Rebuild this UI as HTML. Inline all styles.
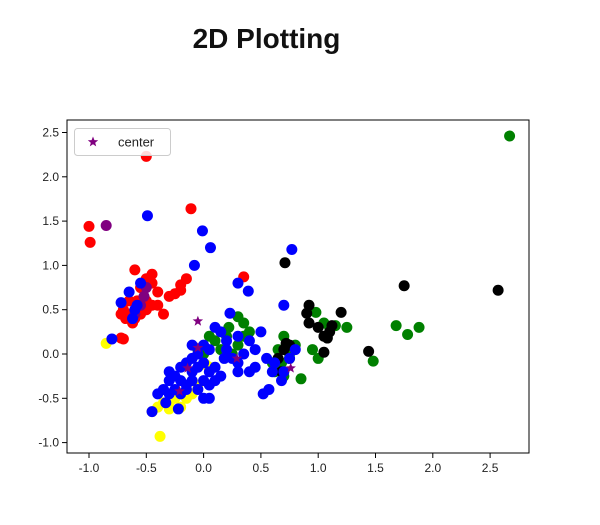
<!DOCTYPE html>
<html><head><meta charset="utf-8"><style>
body{margin:0;background:#fff;width:600px;height:525px;overflow:hidden;font-family:"Liberation Sans",sans-serif}
#title{position:absolute;left:0;width:533px;top:23px;text-align:center;font-weight:bold;font-size:28px;color:#111}
svg{position:absolute;left:0;top:0}
</style></head><body>
<div id="title">2D Plotting</div>
<svg id="chart" width="600" height="525"></svg>
<script>
const xTicks=[-1.0,-0.5,0.0,0.5,1.0,1.5,2.0,2.5];
const yTicks=[-1.0,-0.5,0.0,0.5,1.0,1.5,2.0,2.5];
const redPts=[[-0.5,2.23],[-0.11,1.64],[-1.0,1.44],[-0.99,1.26],[0.35,0.87],[-0.6,0.95],[-0.5,0.85],[-0.45,0.8],[-0.55,0.75],[-0.4,0.7],[-0.65,0.6],[-0.5,0.6],[-0.45,0.55],[-0.7,0.5],[-0.72,0.45],[-0.65,0.45],[-0.6,0.4],[-0.55,0.45],[-0.5,0.5],[-0.35,0.45],[-0.3,0.65],[-0.25,0.68],[-0.2,0.72],[-0.2,0.78],[-0.15,0.85],[-0.7,0.17],[-0.72,0.18],[-0.62,0.35],[-0.68,0.4],[-0.4,0.55],[-0.45,0.9],[-0.58,0.6]];
const purplePts=[[-0.85,1.45],[-0.5,0.75],[-0.52,0.65],[-0.55,0.55],[-0.6,0.45],[-0.62,0.4]];
const yellowPts=[[-0.38,-0.93],[-0.4,-0.6],[-0.35,-0.55],[-0.3,-0.55],[-0.25,-0.5],[-0.2,-0.45],[-0.15,-0.5],[-0.3,-0.62],[-0.1,-0.45],[0.05,-0.15],[-0.45,-0.65],[-0.85,0.12],[-0.2,-0.6],[0.02,-0.12],[-0.05,-0.35]];
const greenPts=[[2.67,2.46],[1.68,0.32],[1.78,0.22],[1.88,0.3],[1.48,-0.08],[0.98,0.47],[0.85,-0.28],[1.05,0.35],[1.1,0.3],[1.15,0.32],[1.25,0.3],[0.95,0.05],[1.0,-0.05],[0.7,0.2],[0.65,0.05],[0.68,-0.1],[0.75,-0.05],[0.6,-0.1],[0.62,-0.2],[0.7,-0.25],[0.75,0.0],[0.8,0.1],[0.3,0.42],[0.35,0.35],[0.22,0.3],[0.2,0.2],[0.1,0.15],[0.3,0.1],[0.35,0.2],[0.4,0.25],[0.0,0.0],[-0.05,0.05],[0.25,0.0],[0.15,0.05],[0.05,0.2]];
const blackPts=[[2.57,0.72],[1.75,0.77],[0.71,1.03],[1.44,0.03],[0.92,0.55],[0.9,0.46],[0.92,0.35],[1.0,0.3],[1.1,0.25],[1.12,0.32],[1.2,0.47],[1.05,0.2],[1.08,0.18],[1.05,0.02],[0.72,0.12],[0.7,0.05],[0.65,-0.05],[0.68,-0.2],[0.75,0.1]];
const bluePts=[[-0.49,1.56],[-0.01,1.39],[0.06,1.2],[-0.08,1.0],[0.77,1.18],[0.3,0.8],[0.39,0.71],[0.23,0.46],[-0.72,0.58],[-0.6,0.5],[-0.8,0.17],[-0.65,0.7],[-0.58,0.55],[-0.62,0.4],[-0.55,0.8],
[0.1,0.3],[0.15,0.25],[0.2,0.15],[0.3,0.2],[0.4,0.15],[0.5,0.25],[0.45,0.05],[0.55,-0.05],[0.35,0.0],[0.25,-0.05],[0.3,-0.2],[0.4,-0.2],[0.45,-0.15],[0.6,-0.2],[0.62,-0.1],
[0.0,0.1],[-0.05,0.0],[0.05,0.05],[-0.1,-0.05],[-0.15,-0.1],[-0.2,-0.15],[-0.1,-0.2],[-0.05,-0.15],[0.0,-0.1],[0.1,-0.15],[0.1,-0.3],[0.15,-0.25],[-0.25,-0.25],[-0.3,-0.3],[-0.2,-0.3],[-0.15,-0.35],[-0.1,-0.3],[-0.05,-0.4],[0.0,-0.3],[0.05,-0.35],
[-0.35,-0.4],[-0.3,-0.45],[-0.25,-0.4],[-0.2,-0.45],[-0.15,-0.4],[-0.4,-0.45],[-0.45,-0.65],[-0.33,-0.55],[-0.22,-0.62],[0.0,-0.5],[0.05,-0.5],[0.52,-0.45],[0.57,-0.4],[0.68,-0.3],[0.18,-0.05],[0.2,0.05],[0.7,0.55],[0.8,0.05],[0.75,-0.05],[0.7,-0.2],[-0.3,-0.2],[-0.1,0.1],[0.05,-0.2],[0.3,-0.1]];
const centerPts=[[-0.05,0.37],[-0.05,0.07],[-0.14,-0.16],[-0.21,-0.42],[0.29,-0.05],[0.76,-0.16]];
const L=67,R=529,T=120,B=453;
const sx=v=>89+(v+1)*114.6;
const sy=v=>354-v*88.6;
const svg=document.getElementById('chart');
const NS='http://www.w3.org/2000/svg';
function mk(tag,attrs,parent){const e=document.createElementNS(NS,tag);for(const k in attrs)e.setAttribute(k,attrs[k]);(parent||svg).appendChild(e);return e;}
xTicks.forEach(t=>{
 const g=mk('g',{});
 
 
 mk('line',{x1:sx(t),x2:sx(t),y1:B,y2:B+5,stroke:'#000'},g);
 const tx=mk('text',{x:sx(t),y:B+19,'text-anchor':'middle','font-size':'12','font-family':'Liberation Sans, sans-serif',fill:'#222'},g);tx.textContent=t.toFixed(1);
});
yTicks.forEach(t=>{
 const g=mk('g',{});
 
 
 mk('line',{x1:L-5,x2:L,y1:sy(t),y2:sy(t),stroke:'#000'},g);
 const tx=mk('text',{x:L-8,y:sy(t)+4,'text-anchor':'end','font-size':'12','font-family':'Liberation Sans, sans-serif',fill:'#222'},g);tx.textContent=t.toFixed(1);
});
function series(pts,color,name){
 const g=mk('g',{});
 
 
 pts.forEach(p=>{const c=mk('circle',{cx:sx(p[0]),cy:sy(p[1]),r:5.5,fill:color},g);
  
  });
}
series(yellowPts,'#ffff00','yellow-series');
series(redPts,'#ff0000','red-series');
series(purplePts,'#800080','purple-series');
series(greenPts,'#008000','green-series');
series(blackPts,'#000000','black-series');
series(bluePts,'#0000ff','blue-series');
function star(cx,cy,r){let p=[];for(let i=0;i<10;i++){const a=-Math.PI/2+i*Math.PI/5;const rr=i%2?r*0.42:r;p.push((cx+rr*Math.cos(a)).toFixed(1)+','+(cy+rr*Math.sin(a)).toFixed(1));}return p.join(' ');}
const cg=mk('g',{});


centerPts.forEach(p=>{const s=mk('polygon',{points:star(sx(p[0]),sy(p[1]),5.5),fill:'#800080'},cg);
 
 });
const frame=mk('rect',{x:L,y:T,width:R-L,height:B-T,fill:'none',stroke:'#000','stroke-width':1});


const lg=mk('g',{});


mk('rect',{x:74.5,y:128.5,width:96,height:27,rx:3,fill:'#fff','fill-opacity':0.85,stroke:'#ccc'},lg);
mk('polygon',{points:star(93,142,5.5),fill:'#800080'},lg);
const lt=mk('text',{x:118,y:146.5,'font-size':'13','font-family':'Liberation Sans, sans-serif',fill:'#222'},lg);lt.textContent='center';
</script>
</body></html>
